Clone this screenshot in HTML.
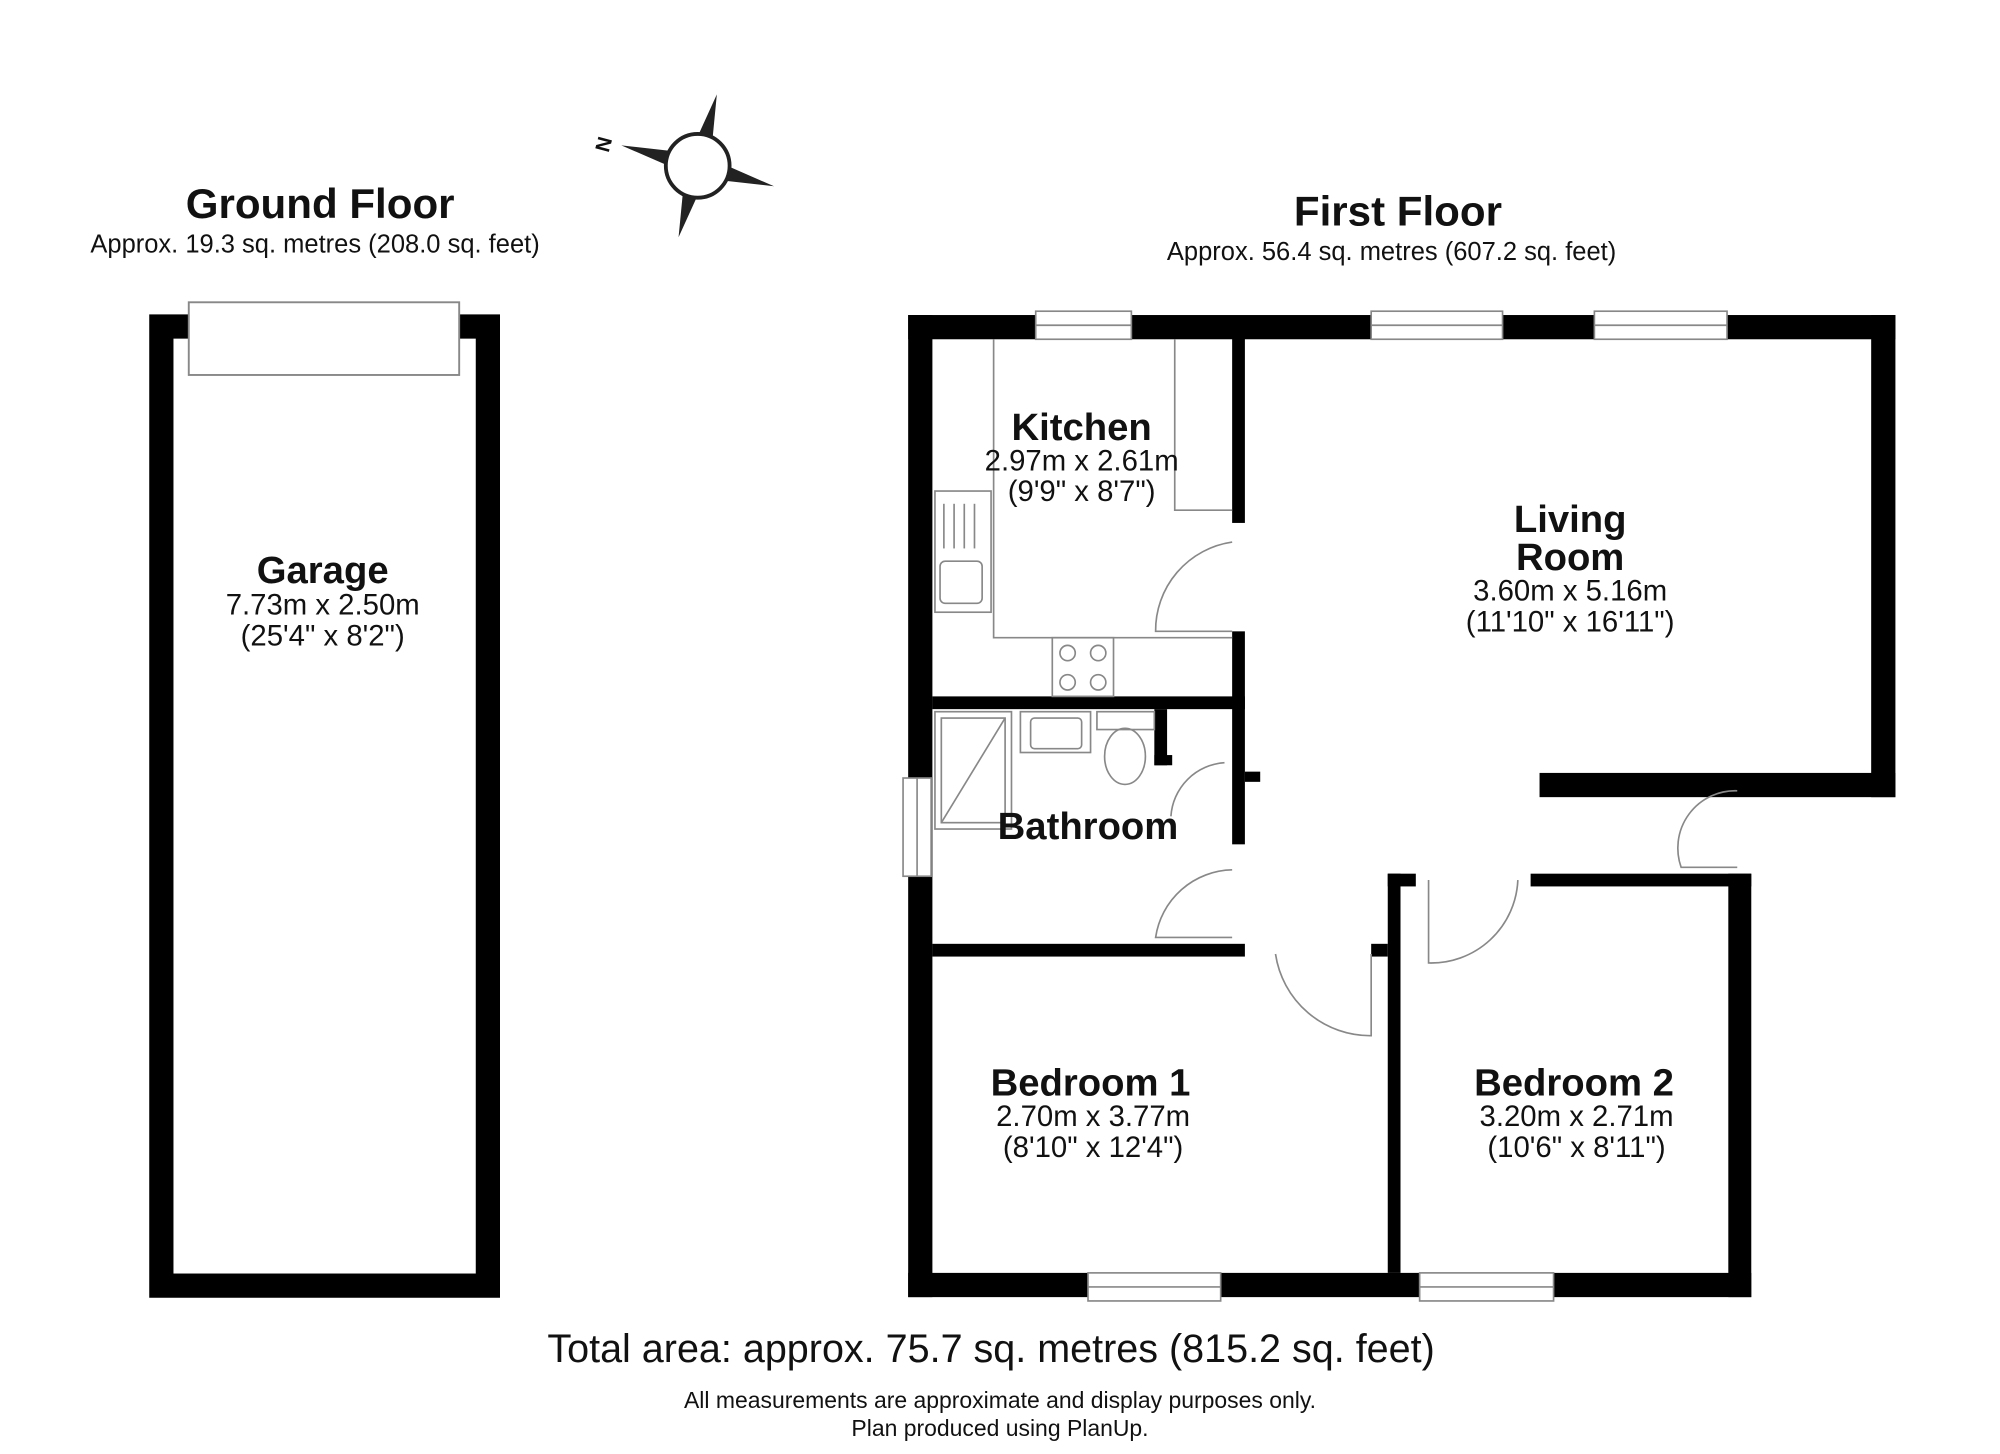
<!DOCTYPE html>
<html><head><meta charset="utf-8"><style>
html,body{margin:0;padding:0;background:#fff}
svg{display:block}
text{font-family:"Liberation Sans",Arial,sans-serif;fill:#111}
.b{font-weight:bold}
</style></head><body>
<svg width="2000" height="1454" viewBox="0 0 1568 1140" preserveAspectRatio="none" xmlns="http://www.w3.org/2000/svg">
<rect width="1568" height="1140" fill="#fff"/>
<!-- compass -->
<g transform="translate(547,130)">
<polygon points="0,-58 6,-22 -6,-22" fill="#222" transform="rotate(15)"/>
<polygon points="0,58 6,22 -6,22" fill="#222" transform="rotate(15)"/>
<polygon points="-62,0 -22,-6 -22,6" fill="#222" transform="rotate(15)"/>
<polygon points="62,0 22,-6 22,6" fill="#222" transform="rotate(15)"/>
<circle r="25" fill="#fff" stroke="#222" stroke-width="3"/>
<text x="-80" y="-14" font-size="16" class="b" transform="rotate(105,-75,-18)">N</text>
</g>
<!-- titles -->
<text x="251" y="171" font-size="33" class="b" text-anchor="middle">Ground Floor</text>
<text x="247" y="198" font-size="20" text-anchor="middle">Approx. 19.3 sq. metres (208.0 sq. feet)</text>
<text x="1096" y="177" font-size="33" class="b" text-anchor="middle">First Floor</text>
<text x="1091" y="204" font-size="20" text-anchor="middle">Approx. 56.4 sq. metres (607.2 sq. feet)</text>
<!-- garage -->
<rect x="126.5" y="256" width="256" height="752" fill="none" stroke="#000" stroke-width="19"/>
<rect x="148" y="237" width="212" height="57" fill="#fff" stroke="#888" stroke-width="1.5"/>
<text x="253" y="457" font-size="30" class="b" text-anchor="middle">Garage</text>
<text x="253" y="482" font-size="23" text-anchor="middle">7.73m x 2.50m</text>
<text x="253" y="506" font-size="23" text-anchor="middle">(25'4" x 8'2")</text>
<!-- first floor walls -->
<g fill="#000">
<rect x="712" y="247" width="774" height="19"/>
<rect x="712" y="247" width="19" height="770"/>
<rect x="1467" y="247" width="19" height="378"/>
<rect x="1207" y="606" width="279" height="19"/>
<rect x="712" y="998" width="661" height="19"/>
<rect x="1355" y="685" width="18" height="332"/>
<rect x="1200" y="685" width="173" height="10"/>
<rect x="1088" y="685" width="22" height="10"/>
<rect x="1088" y="685" width="10" height="313"/>
<rect x="966" y="265" width="10" height="145"/>
<rect x="966" y="495" width="10" height="167"/>
<rect x="731" y="546" width="245" height="10"/>
<rect x="731" y="740" width="245" height="10"/>
<rect x="905" y="556" width="10" height="44"/>
<rect x="905" y="592" width="14" height="8"/>
<rect x="976" y="605" width="12" height="8"/>
<rect x="1075" y="740" width="13" height="10"/>
</g>
<!-- windows -->
<g fill="#fff" stroke="#888" stroke-width="1.3">
<rect x="812" y="244" width="75" height="22"/><line x1="812" y1="255" x2="887" y2="255"/>
<rect x="1075" y="244" width="103" height="22"/><line x1="1075" y1="255" x2="1178" y2="255"/>
<rect x="1250" y="244" width="104" height="22"/><line x1="1250" y1="255" x2="1354" y2="255"/>
<rect x="708" y="610" width="22" height="77"/><line x1="719" y1="610" x2="719" y2="687"/>
<rect x="853" y="998" width="104" height="22"/><line x1="853" y1="1009" x2="957" y2="1009"/>
<rect x="1113" y="998" width="105" height="22"/><line x1="1113" y1="1009" x2="1218" y2="1009"/>
</g>
<!-- fixtures -->
<g fill="none" stroke="#888" stroke-width="1.3">
<polyline points="779,266 779,500 966,500"/>
<polyline points="921,266 921,400 966,400"/>
<rect x="733" y="385" width="44" height="95"/>
<rect x="737" y="440" width="33" height="33" rx="4"/>
<rect x="825" y="500" width="48" height="46"/>
<circle cx="837" cy="512" r="6"/><circle cx="861" cy="512" r="6"/>
<circle cx="837" cy="535" r="6"/><circle cx="861" cy="535" r="6"/>
<line x1="740" y1="395" x2="740" y2="430"/><line x1="748" y1="395" x2="748" y2="430"/><line x1="756" y1="395" x2="756" y2="430"/><line x1="764" y1="395" x2="764" y2="430"/>
<rect x="733" y="558" width="60" height="92"/>
<rect x="738" y="563" width="50" height="82"/>
<line x1="738" y1="645" x2="788" y2="563"/>
<rect x="800" y="558" width="55" height="32"/>
<rect x="808" y="563" width="40" height="24" rx="3"/>
<rect x="860" y="558" width="45" height="14"/>
<ellipse cx="882" cy="593" rx="16" ry="22"/>
<path d="M966,425 A70,70 0 0 0 906,495 L966,495"/>
<path d="M966,682 A62,62 0 0 0 906,735 L966,735"/>
<path d="M960,598 A45,45 0 0 0 918,640"/>
<path d="M1000,748 A75,75 0 0 0 1075,812 L1075,748"/>
<path d="M1120,690 L1120,755 A68,68 0 0 0 1190,690"/>
<path d="M1362,620 A45,45 0 0 0 1318,680 L1362,680"/>
</g>
<!-- labels -->
<text x="848" y="345" font-size="30" class="b" text-anchor="middle">Kitchen</text>
<text x="848" y="369" font-size="23" text-anchor="middle">2.97m x 2.61m</text>
<text x="848" y="393" font-size="23" text-anchor="middle">(9'9" x 8'7")</text>
<text x="1231" y="417" font-size="30" class="b" text-anchor="middle">Living</text>
<text x="1231" y="447" font-size="30" class="b" text-anchor="middle">Room</text>
<text x="1231" y="471" font-size="23" text-anchor="middle">3.60m x 5.16m</text>
<text x="1231" y="495" font-size="23" text-anchor="middle">(11'10" x 16'11")</text>
<text x="853" y="658" font-size="30" class="b" text-anchor="middle">Bathroom</text>
<text x="855" y="859" font-size="30" class="b" text-anchor="middle">Bedroom 1</text>
<text x="857" y="883" font-size="23" text-anchor="middle">2.70m x 3.77m</text>
<text x="857" y="907" font-size="23" text-anchor="middle">(8'10" x 12'4")</text>
<text x="1234" y="859" font-size="30" class="b" text-anchor="middle">Bedroom 2</text>
<text x="1236" y="883" font-size="23" text-anchor="middle">3.20m x 2.71m</text>
<text x="1236" y="907" font-size="23" text-anchor="middle">(10'6" x 8'11")</text>
<text x="777" y="1068" font-size="31" text-anchor="middle">Total area: approx. 75.7 sq. metres (815.2 sq. feet)</text>
<text x="784" y="1104" font-size="18" text-anchor="middle">All measurements are approximate and display purposes only.</text>
<text x="784" y="1126" font-size="18" text-anchor="middle">Plan produced using PlanUp.</text>
</svg>
</body></html>
